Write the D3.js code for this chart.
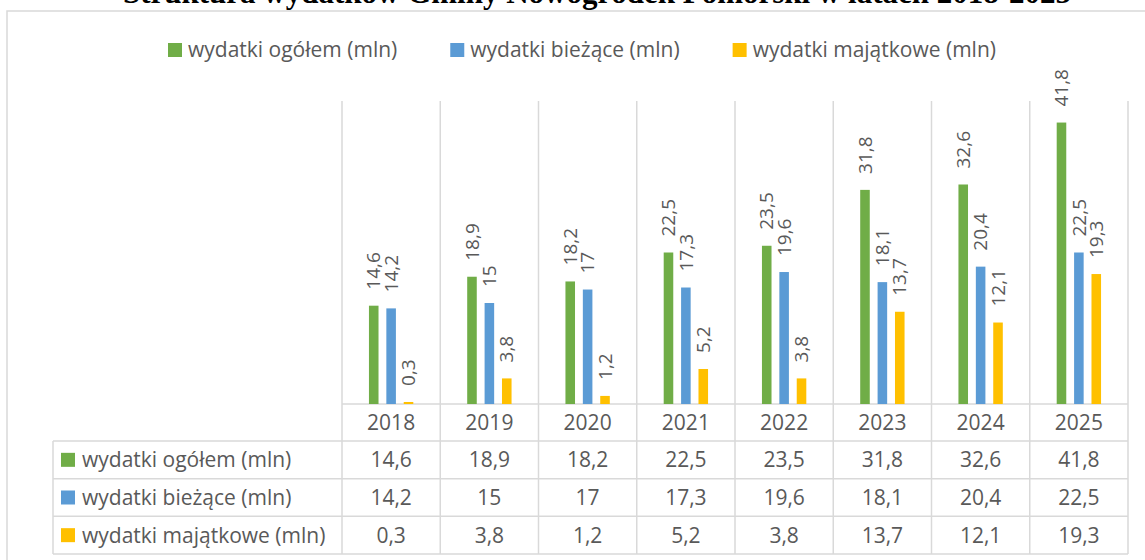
<!DOCTYPE html>
<html>
<head>
<meta charset="utf-8">
<script src="https://cdn.jsdelivr.net/npm/d3@7"></script>
<style>
  body { margin: 0; background: #fff; }
  text { font-family: "Open Sans", sans-serif; fill: #595959; }
  .title { font-family: "Liberation Serif", "Times New Roman", serif; font-weight: bold; fill: #000; }
</style>
</head>
<body>
<div id="chart"></div>
<script>
var years = ["2018", "2019", "2020", "2021", "2022", "2023", "2024", "2025"];
var seriesNames = ["wydatki ogółem (mln)", "wydatki bieżące (mln)", "wydatki majątkowe (mln)"];
var ogolem = [14.6, 18.9, 18.2, 22.5, 23.5, 31.8, 32.6, 41.8];
var biezace = [14.2, 15, 17, 17.3, 19.6, 18.1, 20.4, 22.5];
var majatkowe = [0.3, 3.8, 1.2, 5.2, 3.8, 13.7, 12.1, 19.3];
var colors = ["#70AD47", "#5B9BD5", "#FFC000"];

var w = 1145, h = 560;
var values = [ogolem, biezace, majatkowe];
var fmt = function(v) { return String(v).replace(".", ","); };

var svg = d3.select("#chart").append("svg")
  .attr("width", w)
  .attr("height", h);

// title (cut off at the top like in the source)
svg.append("text")
  .attr("class", "title")
  .attr("x", 597)
  .attr("y", 3)
  .attr("text-anchor", "middle")
  .style("font-size", "31px")
  .text("Struktura wydatków Gminy Nowogródek Pomorski w latach 2018-2025");

// chart border
svg.append("rect")
  .attr("x", 7).attr("y", 11)
  .attr("width", w).attr("height", h)
  .attr("fill", "none")
  .attr("stroke", "#d9d9d9")
  .attr("stroke-width", 1.5);

var xScale = d3.scaleBand().domain(years).range([342, 1128]);
var x1 = d3.scaleBand().domain(seriesNames).range([0, 60]).padding(0.45);
var yScale = d3.scaleLinear().domain([0, 45]).range([404, 101]);
var rowScale = d3.scaleBand().domain(seriesNames).range([441, 554]);

var grid = svg.append("g")
  .attr("stroke", "#d9d9d9")
  .attr("stroke-width", 1.5);

// vertical category lines
var edges = years.map(function(d) { return xScale(d); }).concat([xScale.range()[1]]);
grid.selectAll("line.v")
  .data(edges)
  .enter().append("line")
  .attr("class", "v")
  .attr("x1", function(d) { return d; })
  .attr("x2", function(d) { return d; })
  .attr("y1", yScale.range()[1])
  .attr("y2", rowScale.range()[1]);

// left edge of table
grid.append("line")
  .attr("x1", 53).attr("x2", 53)
  .attr("y1", rowScale.range()[0])
  .attr("y2", rowScale.range()[1]);

// horizontal lines: axis + table rows
grid.append("line")
  .attr("x1", xScale.range()[0]).attr("x2", xScale.range()[1])
  .attr("y1", yScale(0)).attr("y2", yScale(0));

var rowEdges = seriesNames.map(function(d) { return rowScale(d); }).concat([rowScale.range()[1]]);
grid.selectAll("line.h")
  .data(rowEdges)
  .enter().append("line")
  .attr("class", "h")
  .attr("x1", 53).attr("x2", xScale.range()[1])
  .attr("y1", function(d) { return d; })
  .attr("y2", function(d) { return d; });

// bars
var groups = svg.selectAll("g.year")
  .data(years)
  .enter().append("g")
  .attr("class", "year")
  .attr("transform", function(d) {
    return "translate(" + (xScale(d) + xScale.bandwidth() / 2 - 30) + ",0)";
  });

seriesNames.forEach(function(s, si) {
  groups.append("rect")
    .attr("x", x1(s))
    .attr("width", x1.bandwidth())
    .attr("y", function(d, i) { return yScale(values[si][i]); })
    .attr("height", function(d, i) { return yScale(0) - yScale(values[si][i]); })
    .attr("fill", colors[si]);

  groups.append("text")
    .attr("transform", function(d, i) {
      return "translate(" + (x1(s) + x1.bandwidth() / 2) + "," + (yScale(values[si][i]) - 16) + ") rotate(-90)";
    })
    .attr("dy", "0.35em")
    .style("font-size", "19px")
    .text(function(d, i) { return fmt(values[si][i]); });
});

// year labels
svg.selectAll("text.yr")
  .data(years)
  .enter().append("text")
  .attr("class", "yr")
  .attr("x", function(d) { return xScale(d) + xScale.bandwidth() / 2; })
  .attr("y", (yScale(0) + rowScale.range()[0]) / 2)
  .attr("dy", "0.35em")
  .attr("text-anchor", "middle")
  .style("font-size", "21px")
  .text(function(d) { return d; });

// table rows
seriesNames.forEach(function(s, si) {
  var cy = rowScale(s) + rowScale.bandwidth() / 2;
  svg.append("rect")
    .attr("x", 61).attr("y", cy - 7)
    .attr("width", 14).attr("height", 14)
    .attr("fill", colors[si]);
  svg.append("text")
    .attr("x", 82).attr("y", cy)
    .attr("dy", "0.35em")
    .style("font-size", "21px")
    .text(s);
  svg.selectAll("text.val" + si)
    .data(years)
    .enter().append("text")
    .attr("class", "val" + si)
    .attr("x", function(d) { return xScale(d) + xScale.bandwidth() / 2; })
    .attr("y", cy)
    .attr("dy", "0.35em")
    .attr("text-anchor", "middle")
    .style("font-size", "21px")
    .text(function(d, i) { return fmt(values[si][i]); });
});

// legend
var legend = svg.append("g").attr("transform", "translate(0,50)");
var lx = 168;
seriesNames.forEach(function(s, si) {
  legend.append("rect")
    .attr("x", lx).attr("y", -7)
    .attr("width", 14).attr("height", 14)
    .attr("fill", colors[si]);
  var t = legend.append("text")
    .attr("x", lx + 20)
    .attr("dy", "0.35em")
    .style("font-size", "21px")
    .text(s);
  lx += 20 + t.node().getComputedTextLength() + 53;
});
</script>
</body>
</html>
